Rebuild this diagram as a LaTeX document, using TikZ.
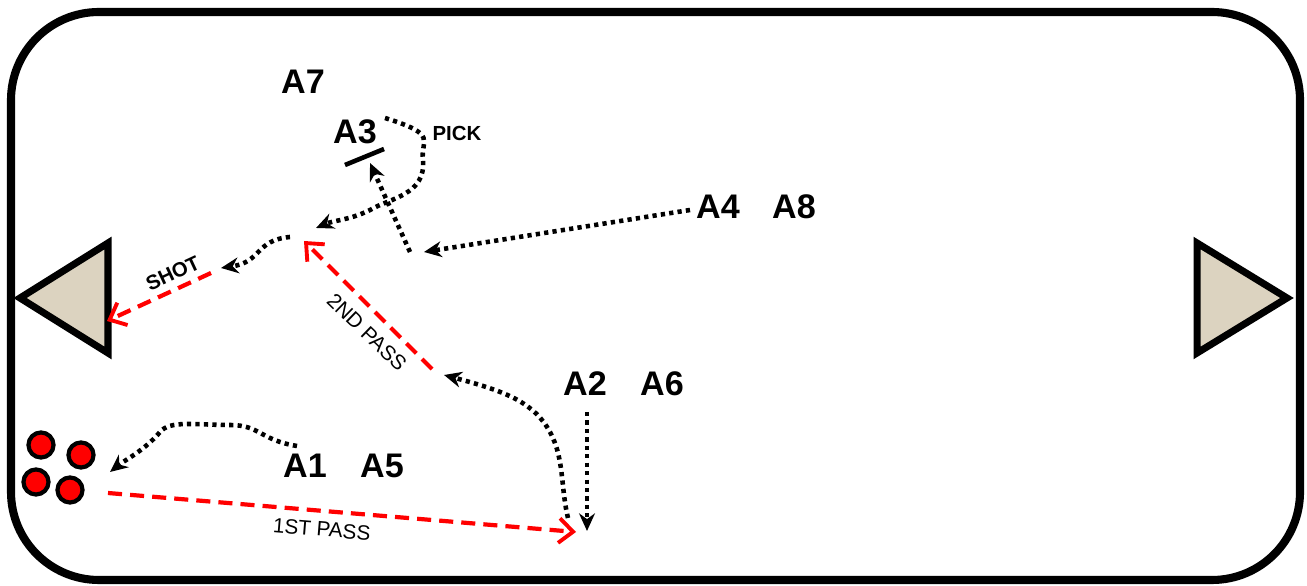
\documentclass[tikz,border=0pt]{standalone}
\usepackage{fontspec}
\setmainfont{Liberation Sans}
\usepackage{tikz}
\usetikzlibrary{arrows.meta}
\definecolor{goalfill}{HTML}{DCD3C0}
\tikzset{
  player/.style={font=\bfseries\fontsize{9.7}{11}\selectfont, inner sep=0pt},
  tag/.style={font=\fontsize{5.9}{7}\selectfont, inner sep=0pt, text=black},
  run/.style={-{Stealth[length=5pt,width=4.5pt]}, line width=1.3pt, dash pattern=on 1.2pt off 1.2pt},
  pass/.style={-{Straight Barb[length=4pt,width=7pt,line width=1.1pt]}, red, line width=1.2pt, dash pattern=on 4pt off 2.3pt},
  ball/.style={circle, fill=red, draw=black, line width=1.2pt, minimum size=0.25cm, inner sep=0pt},
  goal/.style={fill=goalfill, draw=black, line width=2pt, line join=miter},
}
\begin{document}
\begin{tikzpicture}[x=0.01cm,y=-0.01cm]
\useasboundingbox (0,0) rectangle (1307,586);
% rink
\draw[line width=2.3pt, rounded corners=0.88cm] (11,12) rectangle (1300,580);
% goals
\draw[goal] (20,298) -- (108,243) -- (108,353) -- cycle;
\draw[goal] (1287,298) -- (1197,243) -- (1197,353) -- cycle;
% pucks
\node[ball] (p1) at (41,445) {};
\node[ball] (p2) at (81,455) {};
\node[ball] (p3) at (36,482) {};
\node[ball] (p4) at (70,490) {};

% players
\node[player] (A7) at (303,82) {A7};
\node[player] (A3) at (355,132) {A3};
\node[player] (A4) at (718,207) {A4};
\node[player] (A8) at (794,207) {A8};
\node[player] (A2) at (585,384) {A2};
\node[player] (A6) at (662,384) {A6};
\node[player] (A1) at (305,466) {A1};
\node[player] (A5) at (382,466) {A5};
\node[tag, font=\bfseries\fontsize{5.8}{7}\selectfont] (pick) at (457,133) {PICK};

% screen
\coordinate (s1) at (345,165);
\coordinate (s2) at (384,149);
\draw[line width=1.3pt] (s1) -- (s2);

% route points
\coordinate (c1) at (385,118);
\coordinate (c2) at (316,228);
\coordinate (c3) at (410,252);
\coordinate (c4) at (370,163);
\coordinate (c5) at (690,210);
\coordinate (c6) at (424,252);
\coordinate (c7) at (290,237);
\coordinate (c8) at (221,268);
\coordinate (c9) at (568,518);
\coordinate (c10) at (444,375);
\coordinate (c11) at (587,412);
\coordinate (c12) at (587,531);
\coordinate (c13) at (297,446);
\coordinate (c14) at (110,472);
\coordinate (b1) at (211,273);
\coordinate (b2) at (107,321);
\coordinate (b3) at (432,369);
\coordinate (b4) at (304,241);
\coordinate (b5) at (108,493);
\coordinate (b6) at (576,532);

% runs
\draw[run] (c1) .. controls (440,135) and (420,140) .. (423,160)
  .. controls (426,195) and (390,198) .. (370,210)
  .. controls (350,220) and (335,220) .. (c2);
\draw[run] (c3) -- (c4);
\draw[run] (c5) -- (c6);
\draw[run] (c7) .. controls (255,240) and (262,262) .. (c8);
\draw[run] (c9) .. controls (560,485) and (565,455) .. (547,427)
  .. controls (530,400) and (500,390) .. (c10);
\draw[run] (c11) -- (c12);
\draw[run] (c13) .. controls (260,440) and (260,425) .. (230,425)
  .. controls (195,425) and (170,420) .. (160,432)
  .. controls (145,450) and (125,460) .. (c14);

% passes
\draw[pass] (b1) -- (b2) node[tag, font=\bfseries\fontsize{5.8}{7}\selectfont, pos=0.33, above=2pt, rotate=25] {SHOT};
\draw[pass] (b3) -- (b4) node[tag, pos=0.4, rotate=-44, below=3pt] {2ND PASS};
\draw[pass] (b5) -- (b6) node[tag, pos=0.46, rotate=-4.8, below=2.5pt] {1ST PASS};
\end{tikzpicture}
\end{document}
